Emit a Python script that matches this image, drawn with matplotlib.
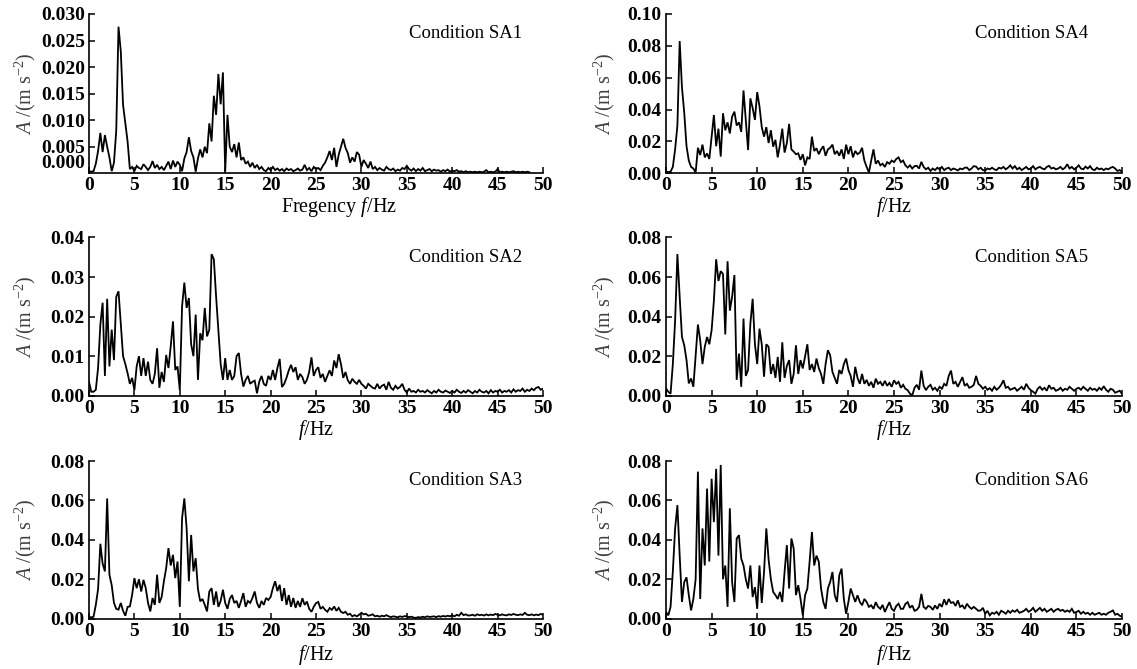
import numpy as np
import matplotlib
matplotlib.use("Agg")
import matplotlib.pyplot as plt

plt.rcParams['font.family'] = ['Liberation Serif', 'DejaVu Serif']
plt.rcParams['mathtext.fontset'] = 'custom'
plt.rcParams['mathtext.rm'] = 'Liberation Serif'
plt.rcParams['mathtext.it'] = 'Liberation Serif:italic'

FREQ_STEP = 0.25  # Hz between samples

sa1 = [
    0.0004, 0.0003, 0.0004, 0.0018, 0.0042, 0.0076, 0.0040, 0.0072, 0.0050, 0.0030, 0.0004, 0.0020, 0.0080, 0.0276, 0.0230, 0.0129,
    0.0094, 0.0060, 0.0008, 0.0012, 0.0004, 0.0014, 0.0010, 0.0008, 0.0017, 0.0012, 0.0006, 0.0012, 0.0023, 0.0010, 0.0016, 0.0008,
    0.0012, 0.0006, 0.0014, 0.0022, 0.0008, 0.0024, 0.0012, 0.0022, 0.0016, 0.0004, 0.0028, 0.0040, 0.0068, 0.0042, 0.0030, 0.0003,
    0.0028, 0.0045, 0.0030, 0.0050, 0.0038, 0.0094, 0.0060, 0.0146, 0.0110, 0.0187, 0.0130, 0.0190, 0.0003, 0.0110, 0.0050, 0.0040,
    0.0055, 0.0030, 0.0058, 0.0025, 0.0030, 0.0018, 0.0022, 0.0012, 0.0020, 0.0010, 0.0016, 0.0008, 0.0012, 0.0006, 0.0004, 0.0010,
    0.0006, 0.0012, 0.0006, 0.0009, 0.0005, 0.0008, 0.0004, 0.0009, 0.0006, 0.0008, 0.0004, 0.0006, 0.0009, 0.0005, 0.0007, 0.0016,
    0.0006, 0.0010, 0.0004, 0.0012, 0.0008, 0.0010, 0.0006, 0.0014, 0.0020, 0.0030, 0.0042, 0.0025, 0.0048, 0.0012, 0.0035, 0.0050,
    0.0065, 0.0048, 0.0038, 0.0020, 0.0030, 0.0022, 0.0040, 0.0035, 0.0012, 0.0025, 0.0018, 0.0010, 0.0022, 0.0008, 0.0012, 0.0006,
    0.0010, 0.0007, 0.0005, 0.0012, 0.0008, 0.0006, 0.0009, 0.0004, 0.0007, 0.0005, 0.0010, 0.0008, 0.0014, 0.0008, 0.0005, 0.0009,
    0.0004, 0.0008, 0.0005, 0.0010, 0.0004, 0.0006, 0.0008, 0.0004, 0.0007, 0.0005, 0.0006, 0.0003, 0.0006, 0.0004, 0.0007, 0.0003,
    0.0005, 0.0004, 0.0006, 0.0003, 0.0004, 0.0002, 0.0004, 0.0002, 0.0003, 0.0002, 0.0003, 0.0002, 0.0003, 0.0002, 0.0003, 0.0006,
    0.0002, 0.0003, 0.0002, 0.0003, 0.0008, 0.0002, 0.0003, 0.0002, 0.0003, 0.0002, 0.0003, 0.0004, 0.0002, 0.0003, 0.0002, 0.0003,
    0.0002, 0.0003, 0.0002,
]

sa2 = [
    0.0035, 0.0010, 0.0010, 0.0015, 0.0070, 0.0180, 0.0235, 0.0050, 0.0245, 0.0074, 0.0167, 0.0090, 0.0250, 0.0264, 0.0180, 0.0100,
    0.0080, 0.0057, 0.0030, 0.0045, 0.0014, 0.0074, 0.0100, 0.0050, 0.0095, 0.0050, 0.0086, 0.0040, 0.0030, 0.0055, 0.0120, 0.0020,
    0.0060, 0.0035, 0.0103, 0.0070, 0.0125, 0.0188, 0.0065, 0.0074, 0.0014, 0.0226, 0.0286, 0.0222, 0.0247, 0.0130, 0.0100, 0.0205,
    0.0040, 0.0158, 0.0140, 0.0222, 0.0150, 0.0167, 0.0358, 0.0345, 0.0250, 0.0167, 0.0080, 0.0040, 0.0095, 0.0040, 0.0065, 0.0040,
    0.0050, 0.0100, 0.0108, 0.0055, 0.0023, 0.0040, 0.0050, 0.0030, 0.0035, 0.0038, 0.0006, 0.0035, 0.0050, 0.0030, 0.0025, 0.0050,
    0.0040, 0.0065, 0.0040, 0.0070, 0.0093, 0.0022, 0.0030, 0.0045, 0.0064, 0.0078, 0.0060, 0.0072, 0.0040, 0.0055, 0.0047, 0.0030,
    0.0040, 0.0060, 0.0097, 0.0050, 0.0065, 0.0072, 0.0045, 0.0055, 0.0035, 0.0050, 0.0064, 0.0050, 0.0089, 0.0070, 0.0105, 0.0080,
    0.0045, 0.0060, 0.0039, 0.0030, 0.0043, 0.0035, 0.0030, 0.0040, 0.0030, 0.0025, 0.0018, 0.0030, 0.0025, 0.0020, 0.0018, 0.0030,
    0.0018, 0.0025, 0.0028, 0.0015, 0.0035, 0.0020, 0.0015, 0.0025, 0.0018, 0.0022, 0.0030, 0.0015, 0.0008, 0.0018, 0.0010, 0.0012,
    0.0008, 0.0015, 0.0010, 0.0012, 0.0008, 0.0014, 0.0010, 0.0006, 0.0012, 0.0008, 0.0015, 0.0010, 0.0008, 0.0013, 0.0010, 0.0007,
    0.0012, 0.0008, 0.0015, 0.0010, 0.0007, 0.0012, 0.0008, 0.0014, 0.0010, 0.0006, 0.0012, 0.0008, 0.0015, 0.0010, 0.0008, 0.0012,
    0.0006, 0.0014, 0.0008, 0.0012, 0.0010, 0.0015, 0.0008, 0.0012, 0.0010, 0.0014, 0.0008, 0.0016, 0.0010, 0.0014, 0.0012, 0.0018,
    0.0010, 0.0015, 0.0012, 0.0018, 0.0014, 0.0020, 0.0022, 0.0015, 0.0018,
]

sa3 = [
    0.0008, 0.0007, 0.0010, 0.0070, 0.0150, 0.0380, 0.0280, 0.0240, 0.0610, 0.0223, 0.0170, 0.0080, 0.0050, 0.0046, 0.0080, 0.0040,
    0.0015, 0.0060, 0.0062, 0.0121, 0.0206, 0.0155, 0.0200, 0.0138, 0.0197, 0.0155, 0.0080, 0.0037, 0.0105, 0.0070, 0.0223, 0.0080,
    0.0110, 0.0190, 0.0257, 0.0358, 0.0270, 0.0324, 0.0206, 0.0290, 0.0060, 0.0510, 0.0610, 0.0460, 0.0190, 0.0425, 0.0240, 0.0307,
    0.0150, 0.0088, 0.0100, 0.0070, 0.0037, 0.0138, 0.0155, 0.0070, 0.0138, 0.0060, 0.0090, 0.0147, 0.0080, 0.0050, 0.0100, 0.0120,
    0.0080, 0.0090, 0.0055, 0.0090, 0.0130, 0.0060, 0.0090, 0.0080, 0.0105, 0.0138, 0.0080, 0.0055, 0.0090, 0.0070, 0.0105, 0.0095,
    0.0110, 0.0155, 0.0190, 0.0140, 0.0172, 0.0090, 0.0155, 0.0070, 0.0120, 0.0060, 0.0105, 0.0055, 0.0090, 0.0060, 0.0104, 0.0070,
    0.0087, 0.0050, 0.0035, 0.0060, 0.0079, 0.0085, 0.0050, 0.0060, 0.0045, 0.0035, 0.0054, 0.0045, 0.0062, 0.0040, 0.0055, 0.0035,
    0.0029, 0.0035, 0.0020, 0.0025, 0.0012, 0.0018, 0.0012, 0.0020, 0.0030, 0.0022, 0.0025, 0.0015, 0.0018, 0.0022, 0.0012, 0.0015,
    0.0010, 0.0015, 0.0012, 0.0018, 0.0012, 0.0008, 0.0012, 0.0010, 0.0007, 0.0012, 0.0009, 0.0013, 0.0012, 0.0008, 0.0010, 0.0006,
    0.0004, 0.0008, 0.0006, 0.0010, 0.0007, 0.0012, 0.0009, 0.0010, 0.0012, 0.0008, 0.0013, 0.0010, 0.0014, 0.0011, 0.0015, 0.0012,
    0.0017, 0.0012, 0.0020, 0.0015, 0.0030, 0.0018, 0.0022, 0.0016, 0.0017, 0.0020, 0.0015, 0.0022, 0.0018, 0.0020, 0.0016, 0.0022,
    0.0017, 0.0021, 0.0018, 0.0024, 0.0020, 0.0017, 0.0022, 0.0018, 0.0017, 0.0022, 0.0019, 0.0024, 0.0020, 0.0018, 0.0022, 0.0019,
    0.0030, 0.0020, 0.0018, 0.0022, 0.0017, 0.0021, 0.0018, 0.0024, 0.0020,
]

sa4 = [
    0.0010, 0.0008, 0.0010, 0.0040, 0.0150, 0.0300, 0.0830, 0.0540, 0.0380, 0.0170, 0.0080, 0.0040, 0.0030, 0.0005, 0.0160, 0.0115,
    0.0180, 0.0100, 0.0125, 0.0090, 0.0230, 0.0366, 0.0170, 0.0280, 0.0105, 0.0377, 0.0270, 0.0320, 0.0250, 0.0356, 0.0387, 0.0300,
    0.0320, 0.0260, 0.0520, 0.0330, 0.0146, 0.0470, 0.0410, 0.0335, 0.0510, 0.0420, 0.0290, 0.0230, 0.0290, 0.0190, 0.0270, 0.0167,
    0.0210, 0.0100, 0.0180, 0.0280, 0.0130, 0.0190, 0.0310, 0.0150, 0.0136, 0.0120, 0.0125, 0.0084, 0.0120, 0.0050, 0.0100, 0.0090,
    0.0230, 0.0140, 0.0157, 0.0120, 0.0150, 0.0170, 0.0110, 0.0150, 0.0160, 0.0180, 0.0120, 0.0140, 0.0110, 0.0150, 0.0090, 0.0180,
    0.0120, 0.0170, 0.0100, 0.0140, 0.0120, 0.0130, 0.0160, 0.0080, 0.0040, 0.0005, 0.0080, 0.0150, 0.0060, 0.0080, 0.0050, 0.0060,
    0.0040, 0.0070, 0.0060, 0.0080, 0.0070, 0.0090, 0.0100, 0.0070, 0.0080, 0.0050, 0.0036, 0.0050, 0.0030, 0.0045, 0.0047, 0.0030,
    0.0072, 0.0040, 0.0025, 0.0035, 0.0015, 0.0030, 0.0020, 0.0035, 0.0025, 0.0040, 0.0020, 0.0030, 0.0035, 0.0020, 0.0030, 0.0025,
    0.0018, 0.0030, 0.0025, 0.0035, 0.0036, 0.0020, 0.0030, 0.0045, 0.0042, 0.0025, 0.0035, 0.0020, 0.0018, 0.0030, 0.0025, 0.0035,
    0.0025, 0.0020, 0.0035, 0.0030, 0.0040, 0.0025, 0.0035, 0.0050, 0.0030, 0.0045, 0.0025, 0.0035, 0.0020, 0.0030, 0.0040, 0.0025,
    0.0030, 0.0045, 0.0025, 0.0035, 0.0040, 0.0030, 0.0025, 0.0040, 0.0047, 0.0030, 0.0035, 0.0025, 0.0030, 0.0040, 0.0025, 0.0035,
    0.0057, 0.0030, 0.0040, 0.0025, 0.0035, 0.0050, 0.0030, 0.0025, 0.0042, 0.0030, 0.0045, 0.0025, 0.0020, 0.0035, 0.0025, 0.0030,
    0.0020, 0.0030, 0.0025, 0.0035, 0.0040, 0.0030, 0.0015, 0.0020, 0.0010,
]

sa5 = [
    0.0037, 0.0020, 0.0010, 0.0160, 0.0380, 0.0716, 0.0500, 0.0297, 0.0255, 0.0180, 0.0062, 0.0087, 0.0045, 0.0200, 0.0360, 0.0280,
    0.0160, 0.0247, 0.0297, 0.0260, 0.0330, 0.0480, 0.0690, 0.0580, 0.0630, 0.0615, 0.0310, 0.0680, 0.0430, 0.0500, 0.0610, 0.0080,
    0.0213, 0.0045, 0.0390, 0.0100, 0.0130, 0.0364, 0.0490, 0.0260, 0.0160, 0.0339, 0.0260, 0.0096, 0.0260, 0.0247, 0.0110, 0.0160,
    0.0090, 0.0196, 0.0070, 0.0270, 0.0090, 0.0150, 0.0180, 0.0060, 0.0110, 0.0255, 0.0110, 0.0180, 0.0138, 0.0200, 0.0260, 0.0130,
    0.0160, 0.0120, 0.0188, 0.0140, 0.0110, 0.0060, 0.0160, 0.0230, 0.0205, 0.0120, 0.0090, 0.0060, 0.0130, 0.0110, 0.0160, 0.0188,
    0.0130, 0.0100, 0.0045, 0.0146, 0.0090, 0.0060, 0.0110, 0.0060, 0.0080, 0.0050, 0.0070, 0.0040, 0.0086, 0.0060, 0.0070, 0.0050,
    0.0075, 0.0050, 0.0065, 0.0045, 0.0078, 0.0060, 0.0070, 0.0040, 0.0055, 0.0035, 0.0028, 0.0010, 0.0002, 0.0040, 0.0055, 0.0030,
    0.0127, 0.0050, 0.0028, 0.0045, 0.0055, 0.0030, 0.0040, 0.0025, 0.0045, 0.0035, 0.0060, 0.0050, 0.0100, 0.0127, 0.0060, 0.0070,
    0.0045, 0.0070, 0.0094, 0.0050, 0.0060, 0.0040, 0.0045, 0.0055, 0.0100, 0.0060, 0.0050, 0.0035, 0.0045, 0.0030, 0.0038, 0.0025,
    0.0045, 0.0030, 0.0040, 0.0055, 0.0078, 0.0040, 0.0045, 0.0030, 0.0035, 0.0040, 0.0025, 0.0035, 0.0045, 0.0030, 0.0060, 0.0040,
    0.0028, 0.0020, 0.0010, 0.0035, 0.0045, 0.0030, 0.0040, 0.0025, 0.0053, 0.0035, 0.0040, 0.0025, 0.0030, 0.0040, 0.0025, 0.0035,
    0.0030, 0.0045, 0.0035, 0.0025, 0.0035, 0.0040, 0.0030, 0.0045, 0.0035, 0.0025, 0.0040, 0.0030, 0.0035, 0.0025, 0.0040, 0.0030,
    0.0048, 0.0030, 0.0020, 0.0035, 0.0030, 0.0015, 0.0020, 0.0025, 0.0010,
]

sa6 = [
    0.0034, 0.0017, 0.0060, 0.0240, 0.0458, 0.0576, 0.0320, 0.0085, 0.0186, 0.0210, 0.0119, 0.0042, 0.0100, 0.0200, 0.0746, 0.0100,
    0.0458, 0.0270, 0.0660, 0.0290, 0.0710, 0.0490, 0.0760, 0.0320, 0.0780, 0.0200, 0.0270, 0.0060, 0.0560, 0.0186, 0.0085, 0.0407,
    0.0424, 0.0305, 0.0270, 0.0200, 0.0153, 0.0270, 0.0110, 0.0160, 0.0050, 0.0270, 0.0080, 0.0237, 0.0458, 0.0300, 0.0200, 0.0136,
    0.0120, 0.0100, 0.0136, 0.0085, 0.0237, 0.0373, 0.0153, 0.0407, 0.0356, 0.0120, 0.0170, 0.0100, 0.0017, 0.0119, 0.0153, 0.0290,
    0.0440, 0.0270, 0.0320, 0.0290, 0.0153, 0.0085, 0.0050, 0.0153, 0.0186, 0.0237, 0.0119, 0.0085, 0.0220, 0.0254, 0.0100, 0.0025,
    0.0085, 0.0153, 0.0119, 0.0085, 0.0119, 0.0085, 0.0068, 0.0100, 0.0085, 0.0060, 0.0068, 0.0050, 0.0084, 0.0060, 0.0050, 0.0070,
    0.0034, 0.0060, 0.0084, 0.0050, 0.0040, 0.0065, 0.0076, 0.0050, 0.0050, 0.0075, 0.0084, 0.0055, 0.0067, 0.0040, 0.0045, 0.0060,
    0.0126, 0.0060, 0.0050, 0.0065, 0.0060, 0.0045, 0.0067, 0.0050, 0.0076, 0.0060, 0.0098, 0.0070, 0.0100, 0.0080, 0.0084, 0.0065,
    0.0093, 0.0060, 0.0067, 0.0050, 0.0076, 0.0060, 0.0050, 0.0060, 0.0050, 0.0040, 0.0042, 0.0055, 0.0025, 0.0040, 0.0017, 0.0030,
    0.0025, 0.0035, 0.0020, 0.0040, 0.0034, 0.0025, 0.0040, 0.0030, 0.0042, 0.0035, 0.0045, 0.0030, 0.0034, 0.0040, 0.0050, 0.0035,
    0.0042, 0.0055, 0.0035, 0.0045, 0.0055, 0.0040, 0.0050, 0.0035, 0.0042, 0.0050, 0.0035, 0.0045, 0.0050, 0.0040, 0.0045, 0.0035,
    0.0042, 0.0035, 0.0050, 0.0030, 0.0034, 0.0040, 0.0025, 0.0035, 0.0025, 0.0030, 0.0020, 0.0030, 0.0020, 0.0025, 0.0030, 0.0020,
    0.0025, 0.0020, 0.0030, 0.0035, 0.0042, 0.0020, 0.0025, 0.0015, 0.0010,
]

conditions = ['Condition SA1', 'Condition SA2', 'Condition SA3',
              'Condition SA4', 'Condition SA5', 'Condition SA6']
series = [sa1, sa2, sa3, sa4, sa5, sa6]
y_max = [0.030, 0.04, 0.08, 0.10, 0.08, 0.08]
y_ticks = [
    [0.0022, 0.005, 0.010, 0.015, 0.020, 0.025, 0.030],
    [0.00, 0.01, 0.02, 0.03, 0.04],
    [0.00, 0.02, 0.04, 0.06, 0.08],
    [0.00, 0.02, 0.04, 0.06, 0.08, 0.10],
    [0.00, 0.02, 0.04, 0.06, 0.08],
    [0.00, 0.02, 0.04, 0.06, 0.08],
]
y_ticklabels = [
    ['0.000', '0.005', '0.010', '0.015', '0.020', '0.025', '0.030'],
    ['0.00', '0.01', '0.02', '0.03', '0.04'],
    ['0.00', '0.02', '0.04', '0.06', '0.08'],
    ['0.00', '0.02', '0.04', '0.06', '0.08', '0.10'],
    ['0.00', '0.02', '0.04', '0.06', '0.08'],
    ['0.00', '0.02', '0.04', '0.06', '0.08'],
]
x_ticks = [0, 5, 10, 15, 20, 25, 30, 35, 40, 45, 50]
x_labels = [r'Fregency $\mathit{f}$/Hz', r'$\mathit{f}$/Hz', r'$\mathit{f}$/Hz',
            r'$\mathit{f}$/Hz', r'$\mathit{f}$/Hz', r'$\mathit{f}$/Hz']
y_label = r'$\mathit{A}$ /(m s$^{-2}$)'

W, H = 1137, 669
fig = plt.figure(figsize=(W / 100, H / 100), dpi=100)

# (left px, right px) per column, (top px, bottom px) per row
cols = [(89, 543), (666, 1122)]
rows = [(14, 173.3), (237.5, 395.7), (461, 618.7)]
xlabel_y = [-0.21, -0.217, -0.23]

for i, (name, vals) in enumerate(zip(conditions, series)):
    c, r = divmod(i, 3)
    l, rr = cols[c]
    t, b = rows[r]
    ax = fig.add_axes([l / W, 1 - b / H, (rr - l) / W, (b - t) / H])
    v = np.array(vals)
    f = np.arange(len(v)) * FREQ_STEP
    ax.plot(f, v, color='black', lw=1.3, solid_joinstyle='miter')
    ax.set_xlim(0, 50)
    ax.set_ylim(0, y_max[i])
    ax.set_xticks(x_ticks)
    ax.set_xticklabels([str(x) for x in x_ticks])
    ax.set_yticks(y_ticks[i])
    ax.set_yticklabels(y_ticklabels[i])
    for s in ['top', 'right']:
        ax.spines[s].set_visible(False)
    for s in ['left', 'bottom']:
        ax.spines[s].set_linewidth(1.2)
    ax.tick_params(direction='in', length=4, width=1.1, pad=3, labelsize=14)
    for lab in ax.get_xticklabels() + ax.get_yticklabels():
        lab.set_fontweight('bold')
    if i == 0:
        ax.yaxis.get_major_ticks()[0].tick1line.set_visible(False)
    cx = 0.678 if c == 1 else 0.705
    ax.text(cx, 0.875, name, transform=ax.transAxes, ha='left', va='center',
            fontsize=13.5)
    xl_x = 0.55 if i == 0 else 0.5
    ax.text(xl_x, xlabel_y[r], x_labels[i], transform=ax.transAxes,
            ha='center', va='center', fontsize=14.5)
    ylx = -0.141 if c == 0 else -0.136
    ax.text(ylx, 0.5, y_label, transform=ax.transAxes, rotation=90,
            ha='center', va='center', fontsize=14.5, color='#404040')

fig.savefig('out.png', dpi=100)
